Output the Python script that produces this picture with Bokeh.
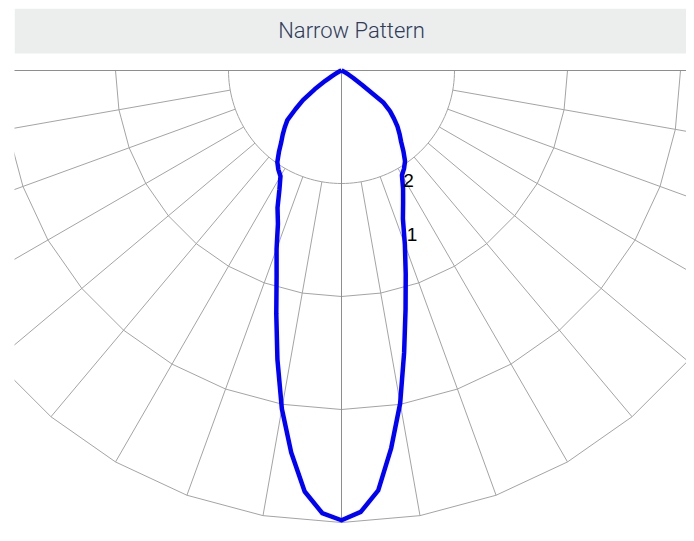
import numpy as np
from bokeh.plotting import figure
from bokeh.models import Range1d
from bokeh.core.properties import value
from bokeh.embed import file_html
from bokeh.resources import INLINE

# ---------------- data ----------------
title_text = "Narrow Pattern"
# polar angles (degrees from nadir) and intensity in ring units
angles = [0, 2.5, 5, 7.5, 10, 12.5, 15, 17.5, 20, 22.5, 25, 27.5, 30, 32.5, 35,
          37.5, 40, 42.5, 45, 47.5, 50, 52.5, 55, 57.5, 60, 62.5, 65, 67.5, 70,
          72.5, 75, 77.5, 80, 82.5, 85, 87.5, 90]
left_r = [3.98, 3.92, 3.74, 3.41, 3.04, 2.62, 2.23, 1.91, 1.68, 1.47, 1.34, 1.19,
          1.08, 1.04, 0.99, 0.91, 0.83, 0.77, 0.71, 0.65, 0.53, 0.43, 0.29, 0.17,
          0.09, 0.05, 0.03, 0.02, 0.01, 0, 0, 0, 0, 0, 0, 0, 0]
right_r = [3.98, 3.91, 3.73, 3.37, 2.99, 2.56, 2.19, 1.89, 1.64, 1.42, 1.29, 1.18,
           1.07, 1.03, 0.98, 0.90, 0.82, 0.76, 0.70, 0.63, 0.56, 0.47, 0.22, 0.12,
           0.07, 0.04, 0.02, 0.01, 0, 0, 0, 0, 0, 0, 0, 0, 0]
ring_levels = [1, 2, 3, 4]
spoke_angles = [10, 20, 30, 40, 50, 60, 70, 80]
curve_labels = ["2", "1"]

# ---------------- layout ----------------
S = 113.0            # px per ring unit
CX, CY = 341, 70     # pole position in screenshot
FL, FR, FT, FB = 14, 686, 8, 533

p = figure(width=FR, height=FB, output_backend="svg", toolbar_location=None,
           x_axis_type=None, y_axis_type=None,
           x_range=Range1d((FL - CX) / S, (FR - CX) / S),
           y_range=Range1d(-(FB - CY) / S, (CY - FT) / S),
           min_border_left=FL, min_border_right=0,
           min_border_top=FT, min_border_bottom=0)
p.outline_line_color = None
p.grid.visible = False
p.background_fill_color = "white"
p.border_fill_color = "white"

# title band
p.quad(left=[(FL - CX) / S], right=[(FR - CX) / S],
       top=[(CY - FT) / S], bottom=[(CY - 53) / S],
       fill_color="#eceeee", line_color=None)
p.text(x=[(351 - CX) / S], y=[(CY - 30) / S], text=[title_text],
       text_font=value("Roboto Light"), text_font_size="22px",
       text_color="#2f3c5c", text_align="center", text_baseline="middle")

grid_col = "#a4a4a4"
axis_col = "#8e8e8e"

# rings
xs, ys = [], []
for r in ring_levels:
    step = 2 if r == 1 else 10
    t = np.radians(np.arange(-90, 90 + step, step))
    xs.append(list(r * np.sin(t)))
    ys.append(list(-r * np.cos(t)))
p.multi_line(xs=xs, ys=ys, line_color=grid_col, line_width=1)

# spokes
xs, ys = [], []
for a in spoke_angles:
    for sgn in (-1, 1):
        t = np.radians(a)
        r0, r1 = ring_levels[0], ring_levels[-1]
        xs.append([sgn * r0 * np.sin(t), sgn * r1 * np.sin(t)])
        ys.append([-r0 * np.cos(t), -r1 * np.cos(t)])
p.multi_line(xs=xs, ys=ys, line_color=grid_col, line_width=1)

# axes lines (0 and 90 deg)
rmax = ring_levels[-1]
p.multi_line(xs=[[0, 0], [-rmax * 1.5, rmax * 1.5]],
             ys=[[0, -rmax], [0, 0]], line_color=axis_col, line_width=1)

# curve
th = np.radians(np.array(angles, dtype=float))
lr = np.array(left_r)
rr = np.array(right_r)
cx = list((-lr * np.sin(th))[::-1]) + list((rr * np.sin(th))[1:])
cy = list((-lr * np.cos(th))[::-1]) + list((-rr * np.cos(th))[1:])
p.line(cx, cy, line_color="#0000ff", line_width=4.5, line_join="round")

# curve labels
p.text(x=[(408 - CX) / S, (411.5 - CX) / S],
       y=[-(179.5 - CY) / S, -(233.5 - CY) / S],
       text=curve_labels, text_font=value("Liberation Sans"),
       text_font_size="19px", text_color="black",
       text_align="center", text_baseline="middle")

open("out.html", "w").write(file_html(p, INLINE))
